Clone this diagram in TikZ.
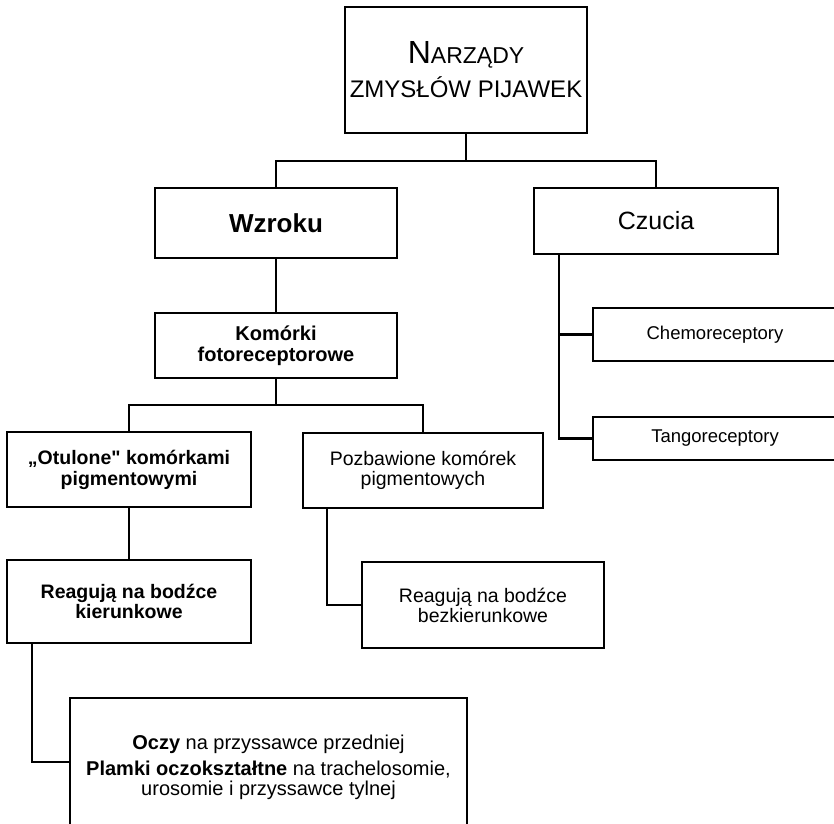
\documentclass[tikz,border=0pt]{standalone}
\usepackage{fontspec}
\setmainfont{Liberation Sans}[Ligatures=TeXOff]
\begin{document}
\begin{tikzpicture}[x=1pt,y=-1pt,
  boxstyle/.style={draw=black,line width=2.6pt,fill=white,inner sep=0pt,align=center,text=black},
  linkstyle/.style={draw=black,line width=2.4pt}]
\useasboundingbox (0,0) rectangle (834,823);
\clip (0,0) rectangle (834,823);
% boxes
\node[boxstyle,minimum width=242pt,minimum height=126pt,
      font=\fontsize{24}{32}\selectfont] (top) at (466,70)
  {{\fontsize{32}{32}\selectfont N}{\fontsize{23}{32}\selectfont ARZĄDY}\\[2pt]
   ZMYSŁÓW PIJAWEK};
\node[boxstyle,minimum width=242pt,minimum height=70pt,
      font=\fontsize{26}{30}\selectfont\bfseries] (wzroku) at (276,223) {Wzroku};
\node[boxstyle,minimum width=244pt,minimum height=66pt,
      font=\fontsize{25}{30}\selectfont] (czucia) at (656,221) {Czucia};
\node[boxstyle,minimum width=242pt,minimum height=65pt,
      font=\fontsize{20}{21}\selectfont\bfseries] (komorki) at (276,345.5)
  {Komórki\\fotoreceptorowe};
\node[boxstyle,minimum width=244pt,minimum height=53pt,
      font=\fontsize{18.5}{21}\selectfont] (chemo) at (715,334.5) {Chemoreceptory};
\node[boxstyle,minimum width=244pt,minimum height=43pt,
      font=\fontsize{18.5}{21}\selectfont] (tango) at (715,438.5) {Tangoreceptory};
\node[boxstyle,minimum width=244pt,minimum height=75pt,
      font=\fontsize{19.5}{21}\selectfont\bfseries] (otulone) at (129,469.5)
  {„Otulone" komórkami\\pigmentowymi};
\node[boxstyle,minimum width=240pt,minimum height=75pt,
      font=\fontsize{19.5}{20}\selectfont] (pozb) at (423,470.5)
  {Pozbawione komórek\\pigmentowych};
\node[boxstyle,minimum width=244pt,minimum height=83pt,
      font=\fontsize{19.5}{20}\selectfont\bfseries] (kier) at (129,601.5)
  {Reagują na bodźce\\kierunkowe};
\node[boxstyle,minimum width=242pt,minimum height=86pt,
      font=\fontsize{19.5}{20}\selectfont] (bezkier) at (483,605)
  {Reagują na bodźce\\bezkierunkowe};
\node[boxstyle,minimum width=397pt,minimum height=138pt,
      font=\fontsize{20}{20}\selectfont] (oczy) at (268.5,767)
  {\textbf{Oczy} na przyssawce przedniej\\[6pt]
   \textbf{Plamki oczokształtne} na trachelosomie,\\
   urosomie i przyssawce tylnej};
% junction points
\coordinate (j1) at (466,161);
\coordinate (j2) at (276,405);
\coordinate (cz) at (559,254);
\coordinate (pz) at (327,508);
\coordinate (kz) at (32,643);
\coordinate (oj) at (70,762);
% connectors
\draw[linkstyle] (top.south) -- (j1);
\draw[linkstyle] (wzroku.north) |- (j1) -| (czucia.north);
\draw[linkstyle] (wzroku.south) -- (komorki.north);
\draw[linkstyle] (komorki.south) -- (j2);
\draw[linkstyle] (otulone.north) |- (j2) -| (pozb.north);
\draw[linkstyle] (cz) |- (chemo.west);
\draw[linkstyle] (cz) |- (tango.west);
\draw[linkstyle] (otulone.south) -- (kier.north);
\draw[linkstyle] (pz) |- (bezkier.west);
\draw[linkstyle] (kz) |- (oj);
\end{tikzpicture}
\end{document}
